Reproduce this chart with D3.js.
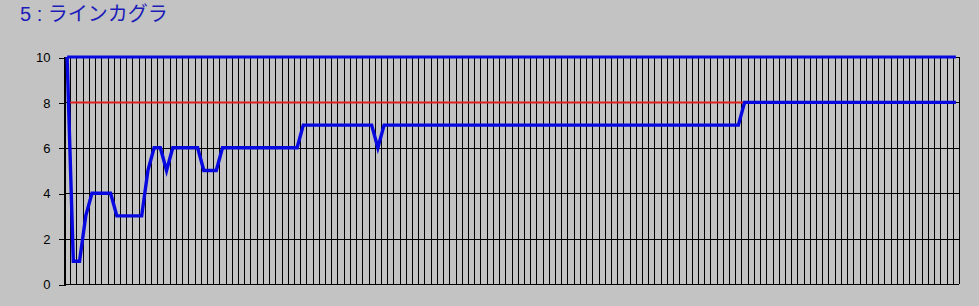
<!DOCTYPE html>
<html><head><meta charset="utf-8">
<script src="https://cdn.jsdelivr.net/npm/d3@7"></script>
<style>html,body{margin:0;padding:0;background:#c3c3c3;}svg{display:block;}</style>
</head><body>
<script>
const title = "5 : ラインカグラ";
const values = [
  10,1,1,3,4,4,4,4,3,3,3,3,3,5,6,6,5,6,6,6,6,6,5,5,5,
  6,6,6,6,6,6,6,6,6,6,6,6,6,
  7,7,7,7,7,7,7,7,7,7,7,7,
  6,
  7,7,7,7,7,7,7,7,7,7,
  7,7,7,7,7,7,7,7,7,7,
  7,7,7,7,7,7,7,7,7,7,
  7,7,7,7,7,7,7,7,7,7,
  7,7,7,7,7,7,7,7,7,7,
  7,7,7,7,7,7,7,7,
  8,8,8,8,8,8,8,8,8,8,
  8,8,8,8,8,8,8,8,8,8,
  8,8,8,8,8,8,8,8,8,8,
  8,8,8,8,8];
const maxLine = 10;
const refLine = 8;
const yTicks = [0,2,4,6,8,10];

const W = 979, H = 306;
const svg = d3.select("body").append("svg").attr("width", W).attr("height", H);
svg.append("rect").attr("width", W).attr("height", H).attr("fill", "#c3c3c3");

const pLeft = 64, pRight = 959, pTop = 57, pBottom = 284;
const idx = d3.range(values.length);
const x = d3.scaleBand().domain(idx).range([pLeft, pRight]).paddingInner(0).paddingOuter(0);
const y = d3.scaleLinear().domain([0, 10]).range([pBottom, pTop]);
const cx = i => x(i) + x.bandwidth() / 2;

// vertical grid at band boundaries
const bounds = idx.map(i => x(i)).concat([pRight]);
svg.append("g").selectAll("line").data(bounds).join("line")
  .attr("x1", d => Math.round(d) + 0.5).attr("x2", d => Math.round(d) + 0.5)
  .attr("y1", pTop).attr("y2", pBottom)
  .attr("stroke", "#000").attr("stroke-width", 1).attr("shape-rendering", "crispEdges");

// horizontal grid
svg.append("g").selectAll("line").data(yTicks).join("line")
  .attr("x1", pLeft).attr("x2", pRight)
  .attr("y1", d => Math.round(y(d)) + 0.5).attr("y2", d => Math.round(y(d)) + 0.5)
  .attr("stroke", "#000").attr("stroke-width", 1).attr("shape-rendering", "crispEdges");

// y axis
const yAxis = d3.axisLeft(y).tickValues(yTicks).tickSize(6).tickPadding(8);
const ga = svg.append("g").attr("transform", `translate(${pLeft + 0.5},0.5)`).call(yAxis);
ga.select(".domain").attr("stroke", "#000").attr("shape-rendering", "crispEdges");
ga.selectAll(".tick line").attr("stroke", "#000").attr("shape-rendering", "crispEdges");
ga.selectAll("text").attr("font-family", "Liberation Sans, Arial, sans-serif").attr("font-size", 13).attr("fill", "#000");

const line = d3.line().x((d, i) => cx(i)).y(d => y(d));

// red reference line
svg.append("path").datum(values.map(() => refLine)).attr("d", line)
  .attr("fill", "none").attr("stroke", "#e02020").attr("stroke-width", 2);
// blue max line
svg.append("path").datum(values.map(() => maxLine)).attr("d", line)
  .attr("fill", "none").attr("stroke", "#0808e0").attr("stroke-width", 3);
// data line
svg.append("path").datum(values).attr("d", line)
  .attr("fill", "none").attr("stroke", "#0808e0").attr("stroke-width", 3.4)
  .attr("stroke-linejoin", "miter");

svg.append("text").attr("x", 20).attr("y", 21).text(title)
  .attr("font-family", "Liberation Sans, 'Noto Sans CJK JP', sans-serif")
  .attr("font-size", 20).attr("fill", "#1c1cb8");
</script>
</body></html>
